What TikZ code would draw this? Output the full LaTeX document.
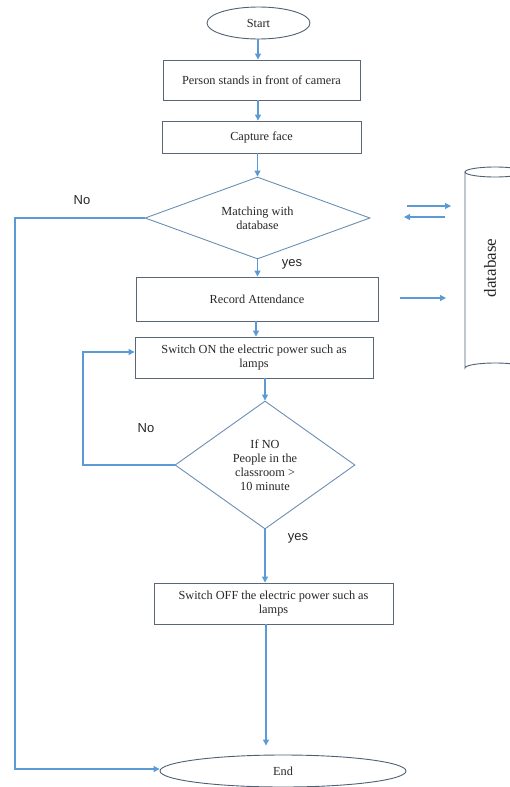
\documentclass[tikz,border=0pt]{standalone}
\usepackage{fontspec}
\setmainfont{Liberation Serif}
\newfontfamily\lsans{Liberation Sans}
\usetikzlibrary{arrows.meta,shapes.geometric,calc}
\definecolor{linec}{HTML}{5B9BD5}
\definecolor{boxc}{HTML}{5A6675}
\definecolor{diac}{HTML}{6A8FB3}
\definecolor{ellc}{HTML}{4F6074}
\tikzset{
  txt/.style={font=\fontsize{12.3}{14}\selectfont, align=center, inner sep=0pt, text=black!85},
  stepbox/.style={txt, draw=boxc, line width=0.9pt, rectangle},
  decide/.style={txt, draw=diac, line width=0.9pt, diamond},
  term/.style={txt, draw=ellc, line width=0.9pt, ellipse},
  arr/.style={draw=linec, line width=1.1pt, -{Triangle[length=6pt,width=6pt]}},
  lbl/.style={font=\lsans\fontsize{13}{15}\selectfont, inner sep=0pt, text=black!85},
}
\begin{document}
\begin{tikzpicture}[x=1pt,y=-1pt]
\useasboundingbox (0,0) rectangle (510,787);
\node[term, minimum width=103, minimum height=32] (start) at (258.5,23) {Start};
\node[stepbox, minimum width=197, minimum height=40] (b1) at (261.5,80) {Person stands in front of camera};
\node[stepbox, minimum width=199, minimum height=32] (b2) at (261.5,137) {Capture face};
\node[decide, aspect=2.7, minimum width=225, minimum height=82] (d1) at (257.5,218) {Matching with\\database};
\node[stepbox, minimum width=242, minimum height=44] (b3) at (257,299) {Record Attendance};
\node[stepbox, minimum width=238, minimum height=41] (b4) at (254,357.5) {Switch ON the electric power such as\\lamps};
\node[decide, aspect=1.4, minimum width=180, minimum height=128] (d2) at (265,465) {If NO\\People in the\\classroom >\\10 minute};
\node[stepbox, minimum width=239, minimum height=41] (b5) at (273.5,603.5) {Switch OFF the electric power such as\\lamps};
\node[term, minimum width=246, minimum height=32] (endn) at (283,771) {End};

% database cylinder
\draw[draw=ellc, line width=0.9pt] (495,172) ellipse (30 and 5);
\draw[draw=ellc, line width=0.9pt] (465,172) -- (465,368) arc[start angle=180, end angle=360, x radius=30, y radius=5] -- (525,172);
\node[font=\fontsize{17}{20}\selectfont, rotate=90, inner sep=0pt, text=black!85] (dbl) at (490,268) {database};

% labels
\node[lbl] (no1) at (82,200) {No};
\node[lbl] (yes1) at (292,264) {yes};
\node[lbl] (no2) at (146,428) {No};
\node[lbl] (yes2) at (298,538) {yes};

% connectors
\draw[arr] (start.south -| 258,0) -- (258,0 |- b1.north);
\draw[arr] (b1.south -| 258,0) -- (258,0 |- b2.north);
\draw[arr] (b2.south -| d1.north) -- (d1.north);
\draw[arr] (d1.south) -- (d1.south |- b3.north);
\draw[arr] (b3.south -| 256,0) -- (256,0 |- b4.north);
\draw[arr] (b4.south -| d2.north) -- (d2.north);
\draw[arr] (d2.south) -- (d2.south |- b5.north);
\draw[arr, shorten >=9pt] (b5.south -| 266,0) -- (266,0 |- endn.north);

\coordinate (L1) at (15,218);
\coordinate (L2) at (15,769);
\draw[arr] (d1.west) -- (L1) -- (L2) -- (L2 -| endn.west);

\coordinate (lp) at (83,352);
\draw[arr] (d2.west) -| (lp) -- (lp -| b4.west);

% arrows to/from database
\coordinate (a1s) at (407,206); \coordinate (a1e) at (451,206);
\coordinate (a2s) at (445,217); \coordinate (a2e) at (404,217);
\coordinate (a3s) at (400,298); \coordinate (a3e) at (446,298);
\draw[arr] (a1s) -- (a1e);
\draw[arr] (a2s) -- (a2e);
\draw[arr] (a3s) -- (a3e);
\end{tikzpicture}
\end{document}
